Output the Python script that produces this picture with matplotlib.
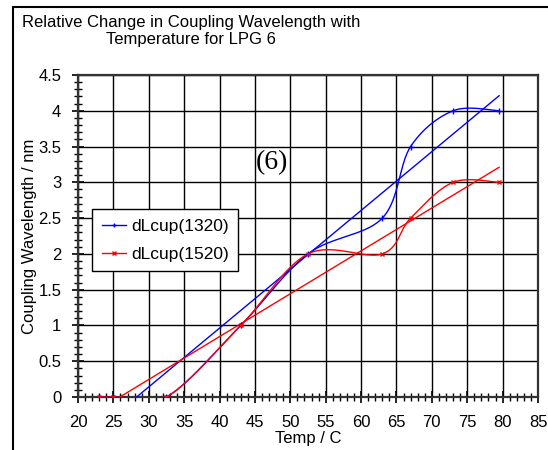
import numpy as np
import matplotlib
matplotlib.use("Agg")
import matplotlib.pyplot as plt
from matplotlib.lines import Line2D
from matplotlib.patches import Rectangle
from matplotlib.ticker import MultipleLocator

plt.rcParams['font.family'] = ['Liberation Sans', 'DejaVu Sans']

# ---- data ----
temp = [23, 25, 32.5, 43, 52.5, 63, 67, 73, 79.5]
dl_1320 = [0, 0, 0, 1, 2, 2.5, 3.5, 4, 4]
dl_1520 = [0, 0, 0, 1, 2, 2, 2.5, 3, 3]
fit_1320 = (0.0822, -2.325)   # slope, intercept of linear fit
fit_1520 = (0.0599, -1.552)
series_names = ['dLcup(1320)', 'dLcup(1520)']
x_ticks = [20, 25, 30, 35, 40, 45, 50, 55, 60, 65, 70, 75, 80, 85]
y_ticks = [0, 0.5, 1, 1.5, 2, 2.5, 3, 3.5, 4, 4.5]


def catmull_rom(x, y, n=40):
    P = np.column_stack([x, y]).astype(float)
    P = np.vstack([P[0], P, P[-1]])
    t = np.linspace(0, 1, n)[:, None]
    segs = []
    for i in range(1, len(P) - 2):
        p0, p1, p2, p3 = P[i - 1], P[i], P[i + 1], P[i + 2]
        seg = 0.5 * ((2 * p1) + (-p0 + p2) * t
                     + (2 * p0 - 5 * p1 + 4 * p2 - p3) * t ** 2
                     + (-p0 + 3 * p1 - 3 * p2 + p3) * t ** 3)
        segs.append(seg)
    S = np.vstack(segs)
    return S[:, 0], S[:, 1]


W, H = 548, 450
fig = plt.figure(figsize=(W / 100, H / 100), dpi=100)
ax = fig.add_axes([78 / W, 1 - 397 / H, 460 / W, 322 / H])

colors = ['#0000FF', '#FF0000']
markers = ['+', 'x']
msizes = [4, 3.5]
for yv, fit, c, m, ms in zip([dl_1320, dl_1520], [fit_1320, fit_1520], colors, markers, msizes):
    sx, sy = catmull_rom(temp, yv)
    ax.plot(sx, sy, color=c, lw=1.0, zorder=3)
    ax.plot(temp, yv, ls='none', marker=m, ms=ms, mew=1.0, color=c, zorder=4)
    xf = np.array([temp[0], temp[-1]])
    ax.plot(xf, fit[0] * xf + fit[1], color=c, lw=1.0, zorder=3)

ax.set_xlim(20, 85)
ax.set_ylim(0, 4.5)
ax.set_xticks(x_ticks)
ax.set_yticks(y_ticks)
ax.set_yticklabels([('%g' % v) for v in y_ticks])
ax.xaxis.set_minor_locator(MultipleLocator(1))
ax.yaxis.set_minor_locator(MultipleLocator(0.1))
ax.tick_params(which='major', direction='inout', length=8, width=1.2, labelsize=12, color='black')
ax.tick_params(which='minor', direction='inout', length=6, width=1.0, color='black')
ax.tick_params(axis='x', which='major', pad=9)
ax.tick_params(axis='y', which='major', pad=8)
ax.grid(True, which='major', color='black', lw=1.0)
ax.set_axisbelow(True)
for s in ax.spines.values():
    s.set_color('#333333')
    s.set_linewidth(1.6)

ax.set_xlabel('Temp / C', fontsize=12)
ax.xaxis.set_label_coords(0.5, -0.105)
ax.set_ylabel('Coupling Wavelength / nm', fontsize=12)
ax.yaxis.set_label_coords(-0.09, 0.5)

ax.text(47.4, 3.28, '(6)', family=['Liberation Serif', 'DejaVu Serif'], fontsize=20,
        ha='center', va='center', zorder=5)

handles = [Line2D([], [], color=c, lw=1.0, marker=m, ms=ms * 0.8)
           for c, m, ms in zip(colors, markers, msizes)]
leg = ax.legend(handles, series_names, loc='upper left',
                bbox_to_anchor=((92 - 78) / 460, (397 - 209) / 322),
                borderaxespad=0, fontsize=12.5, fancybox=False, framealpha=1,
                edgecolor='black', handlelength=1.4, handletextpad=0.3,
                labelspacing=0.75, borderpad=0.55)
leg.get_frame().set_linewidth(1.0)
leg.set_zorder(6)

fig.text(191 / W, 1 - 31 / H, 'Relative Change in Coupling Wavelength with\nTemperature for LPG 6',
         ha='center', va='center', multialignment='center', fontsize=12, linespacing=1.2)

fig.patches.append(Rectangle((12.7 / W, -0.1), 1.2, (H - 7) / H + 0.1, transform=fig.transFigure,
                             fill=False, edgecolor='black', lw=1.5))

fig.savefig('out.png', dpi=100)
